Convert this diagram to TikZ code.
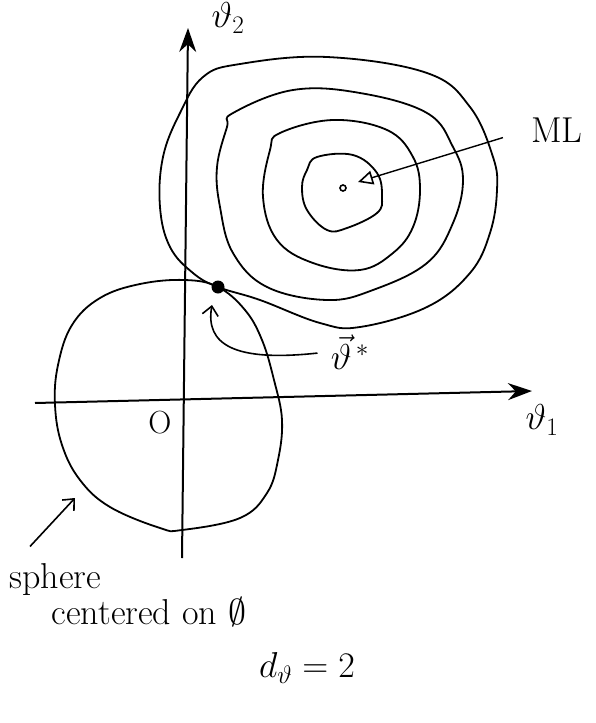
\RequirePackage{fix-cm}
\documentclass[tikz,border=0pt]{standalone}
\usepackage{amsmath,amssymb}
\usepackage{tikz}
\usetikzlibrary{positioning,arrows.meta}

\begin{document}
\begin{tikzpicture}[
    x=1pt, y=-1pt,
    every node/.style={font=\fontsize{36}{40}\selectfont},
    axis/.style={line width=2pt, -{Stealth[length=24pt,width=17pt]}},
    contour/.style={line width=1.8pt, smooth cycle, tension=0.65},
    pointer/.style={line width=1.6pt, -{Straight Barb[length=9pt,width=16pt,line width=1.6pt]}},
    mlpointer/.style={line width=1.4pt, -{Triangle[open,length=15pt,width=14pt,line width=1.6pt]}}
]
\useasboundingbox (0,0) rectangle (595,723);

% axes
\coordinate (ybase) at (182,558);
\coordinate (ytop) at (188,28);
\coordinate (xbase) at (35,403);
\coordinate (xtop) at (532,391);
\draw[axis] (ybase) -- (ytop);
\draw[axis] (xbase) -- (xtop);

\node (thetatwo) at (228,18) {$\vartheta_2$};
\node (thetaone) at (542,420) {$\vartheta_1$};
\node[font=\fontsize{32}{36}\selectfont] (origin) at (160,423) {O};

% sphere centered on the origin
\draw[contour] plot coordinates {(218,287) (245,310) (262,340) (274,380) (282,420)
  (278,460) (267,493) (240,518) (182,530) (160,528) (110,507) (80,480) (62,445)
  (55,405) (58,365) (72,325) (100,298) (140,284) (185,280)};

% level sets around ML
\draw[contour] plot coordinates {(218,287) (260,300) (320,323) (360,327) (427,307)
  (470,273) (490,233) (497,190) (493,157) (470,107) (427,73) (327,57) (240,64) (203,77)
  (180,113) (163,157) (160,207) (170,247) (193,273)};
\draw[contour] plot coordinates {(233,113) (293,90) (360,93) (427,113) (453,147)
  (463,180) (453,223) (427,263) (373,290) (327,300) (267,287) (233,253) (220,207)
  (217,167) (227,127)};
\draw[contour] plot coordinates {(280,133) (333,120) (387,130) (413,157) (420,190)
  (413,227) (393,253) (360,270) (313,263) (277,240) (263,197) (270,150)};
\draw[contour] plot coordinates {(317,157) (353,155) (377,173) (382,197) (377,213)
  (347,228) (327,230) (307,210) (302,187) (307,170)};

\node[circle, draw, line width=1.6pt, inner sep=0pt, minimum size=6pt] (mlcenter) at (343,188) {};
\node[circle, fill, inner sep=0pt, minimum size=13pt] (tangent) at (218,287) {};

\node (mllabel) at (557,130) {ML};
\coordinate (mltip) at (358,182);
\draw[mlpointer, shorten <=26pt] (mllabel.west) -- (mltip);

\node (wstar) at (350,352) {$\vec{\vartheta}^{\,*}$};
\coordinate (wtip) at (212,305);
\draw[pointer, shorten <=10pt] (wstar.west) .. controls (235,362) and (205,345) .. (wtip);

\node[anchor=west] (spherelabel) at (6,580) {sphere};
\node[anchor=west] (centeredlabel) at (48,612) {centered on $\emptyset$};
\coordinate (spheretip) at (75,498);
\draw[pointer] ([xshift=24pt,yshift=14pt]spherelabel.north west) -- (spheretip);

\node (dims) at (307,668) {$d_{\vartheta} = 2$};
\end{tikzpicture}
\end{document}
